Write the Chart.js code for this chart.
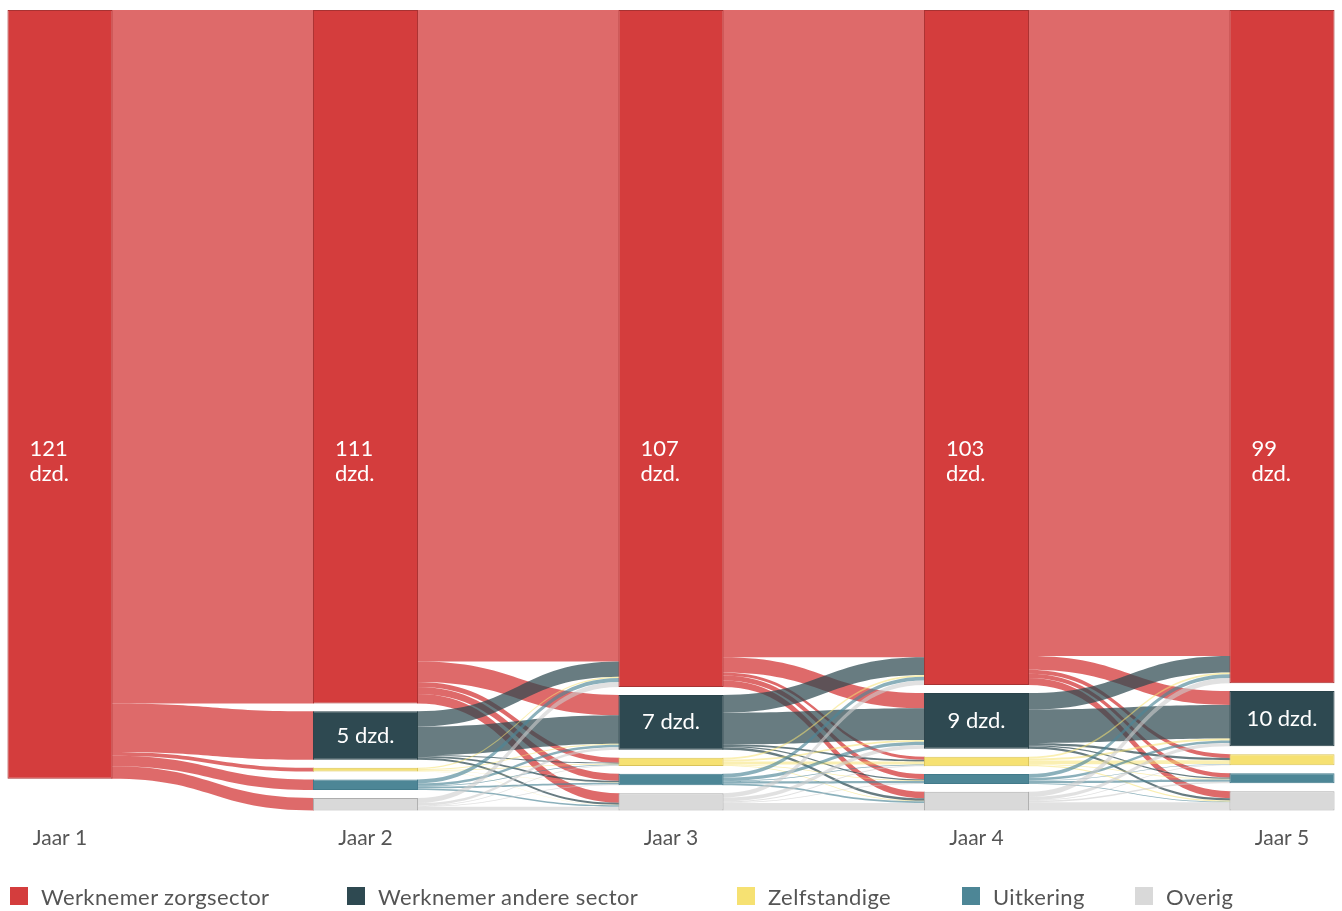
<!DOCTYPE html>
<html>
<head>
<meta charset="utf-8">
<script src="https://cdn.jsdelivr.net/npm/chart.js@4.4.1/dist/chart.umd.min.js"></script>
<style>
  html, body { margin: 0; padding: 0; background: #fff; }
  #wrap { position: relative; width: 1342px; height: 911px; }
  #legend { position: absolute; left: 10px; top: 884px; display: flex; font-family: Lato, 'DejaVu Sans', sans-serif; font-size: 22px; letter-spacing: 0.4px; color: #555; }
  #legend .item { display: flex; align-items: center; height: 24px; }
  #legend .box { width: 18px; height: 18px; margin-right: 13px; }
</style>
</head>
<body>
<div id="wrap">
  <canvas id="sankey"></canvas>
  <div id="legend"></div>
</div>
<script>
const years = ['Jaar 1', 'Jaar 2', 'Jaar 3', 'Jaar 4', 'Jaar 5'];
const categories = ['Werknemer zorgsector', 'Werknemer andere sector', 'Zelfstandige', 'Uitkering', 'Overig'];

// labels printed on the nodes
const mainLabels = ['121', '111', '107', '103', '99'];
const otherSectorLabels = [null, '5', '7', '9', '10'];

// flows in dzd. from one year to the next (row = from, column = to)
const flows12 = [
    [109.4, 7.65, 0.6, 1.65, 2.0],
    [0, 0, 0, 0, 0],
    [0, 0, 0, 0, 0],
    [0, 0, 0, 0, 0],
    [0, 0, 0, 0, 0]
];
const flows23 = [
    [102.8, 3.2, 0.8, 1.1, 1.5],
    [2.4, 4.5, 0.15, 0.25, 0.35],
    [0.2, 0.15, 0.15, 0.05, 0.05],
    [0.6, 0.4, 0.1, 0.3, 0.25],
    [0.8, 0.4, 0.1, 0.1, 0.6]
];
const flows34 = [
    [102.1, 2.4, 0.5, 0.8, 1.0],
    [2.8, 5.0, 0.25, 0.2, 0.4],
    [0.3, 0.3, 0.5, 0.1, 0.1],
    [0.6, 0.5, 0.1, 0.35, 0.25],
    [0.7, 0.6, 0.15, 0.1, 1.2]
];
const flows45 = [
    [101.9, 2.2, 0.6, 0.7, 1.1],
    [2.6, 5.3, 0.35, 0.2, 0.35],
    [0.3, 0.3, 0.6, 0.1, 0.2],
    [0.6, 0.4, 0.1, 0.35, 0.1],
    [0.8, 0.5, 0.1, 0.25, 1.3]
];
const transitions = [flows12, flows23, flows34, flows45];

const nodeColors = ['#d43d3d', '#2e4951', '#f6e172', '#4d8696', '#d9d9d9'];
const nodeBorders = ['#a83232', '#2a434a', '#d9c35a', '#427a8a', '#adadad'];
const linkColors = [
    'rgba(212, 61, 61, 0.77)',
    'rgba(46, 73, 81, 0.72)',
    'rgba(246, 225, 114, 0.55)',
    'rgba(77, 134, 150, 0.65)',
    'rgba(205, 205, 205, 0.6)'
];

const GAP = 1.25;        // space between nodes, in dzd.
const NODE_W = 0.344;    // node width as part of the column step

const sum = arr => arr.reduce((a, b) => a + b, 0);

// node sizes: first year from outgoing flows, later years from incoming ones
const nodeValues = [transitions[0].map(row => sum(row))];
transitions.forEach(m => {
    nodeValues.push(categories.map((_, to) => sum(m.map(row => row[to]))));
});

// stack nodes from the top of each column
const nodeStarts = nodeValues.map(col => {
    let pos = 0;
    return col.map(v => {
        if (v <= 0) return null;
        const start = pos;
        pos += v + GAP;
        return start;
    });
});

const datasets = categories.map((cat, k) => ({
    label: cat,
    data: years.map((_, i) => nodeStarts[i][k] === null ? null :
        { x: i, y: [nodeStarts[i][k], nodeStarts[i][k] + nodeValues[i][k]] }).filter(d => d),
    backgroundColor: nodeColors[k],
    borderColor: nodeBorders[k],
    borderWidth: 1,
    borderSkipped: false,
    grouped: false,
    barPercentage: NODE_W,
    categoryPercentage: 1
}));

function band(ctx, x0, x1, a0, a1, b0, b1) {
    const xm = (x0 + x1) / 2;
    ctx.beginPath();
    ctx.moveTo(x0, a0);
    ctx.bezierCurveTo(xm, a0, xm, b0, x1, b0);
    ctx.lineTo(x1, b1);
    ctx.bezierCurveTo(xm, b1, xm, a1, x0, a1);
    ctx.closePath();
    ctx.fill();
}

const flowPlugin = {
    id: 'flows',
    beforeDatasetsDraw(chart) {
        const ctx = chart.ctx;
        const xs = chart.scales.x, ys = chart.scales.y;
        const bar = chart.getDatasetMeta(0).data[0];
        const half = bar.width / 2;
        ctx.save();
        transitions.forEach((m, t) => {
            // tuck the ends 1px under the nodes so no seam shows
            const x0 = xs.getPixelForValue(t) + half - 1;
            const x1 = xs.getPixelForValue(t + 1) - half + 1;
            const outPos = nodeStarts[t].slice();
            const inPos = nodeStarts[t + 1].slice();
            const links = [];
            m.forEach((row, from) => row.forEach((v, to) => {
                if (v > 0) links.push({ from, to, v });
            }));
            // source side is ordered by target, target side by source
            links.slice().sort((a, b) => a.from - b.from || a.to - b.to).forEach(l => {
                l.s = outPos[l.from]; outPos[l.from] += l.v;
            });
            links.slice().sort((a, b) => a.to - b.to || a.from - b.from).forEach(l => {
                l.d = inPos[l.to]; inPos[l.to] += l.v;
            });
            links.forEach(l => {
                ctx.fillStyle = linkColors[l.from];
                band(ctx, x0, x1,
                    ys.getPixelForValue(l.s), ys.getPixelForValue(l.s + l.v),
                    ys.getPixelForValue(l.d), ys.getPixelForValue(l.d + l.v));
            });
        });
        ctx.restore();
    },
    afterDatasetsDraw(chart) {
        const ctx = chart.ctx;
        const ys = chart.scales.y;
        ctx.save();
        ctx.fillStyle = '#ffffff';
        ctx.font = '22px Lato, "DejaVu Sans", sans-serif';
        ctx.textBaseline = 'middle';
        const mid = ys.getPixelForValue(71.2);
        chart.getDatasetMeta(0).data.forEach((b, i) => {
            ctx.textAlign = 'left';
            const left = b.x - b.width / 2 + 22;
            ctx.fillText(mainLabels[i], left, mid - 12);
            ctx.fillText('dzd.', left, mid + 13);
        });
        chart.getDatasetMeta(1).data.forEach((b, j) => {
            const txt = otherSectorLabels[j + 1];
            if (!txt) return;
            ctx.textAlign = 'center';
            ctx.fillText(txt + ' dzd.', b.x, (b.y + b.base) / 2);
        });
        ctx.restore();
    }
};

const ctx = document.getElementById('sankey').getContext('2d');
const chart = new Chart(ctx, {
    type: 'bar',
    data: { datasets: datasets },
    options: {
        responsive: true,
        maintainAspectRatio: false,
        animation: false,
        events: [],
        layout: { padding: { top: 10, left: 0, right: 0, bottom: 56 } },
        scales: {
            x: {
                type: 'linear',
                offset: false,
                min: -60 / 305.5,
                max: 4 + 60 / 305.5,
                afterBuildTicks: axis => { axis.ticks = years.map((_, i) => ({ value: i })); },
                afterFit: axis => { axis.height = 40; },
                grid: { display: false, drawTicks: false, offset: false },
                border: { display: false },
                ticks: {
                    padding: 11,
                    maxRotation: 0,
                    autoSkip: false,
                    color: '#555',
                    font: { family: 'Lato', size: 21 },
                    callback: v => years[v]
                }
            },
            y: {
                display: false,
                reverse: true,
                min: 0,
                max: 127
            }
        },
        plugins: {
            legend: { display: false },
            tooltip: { enabled: false }
        }
    },
    plugins: [flowPlugin]
});

// legend under the chart
const legendSlots = [337, 390, 225, 173, 120];
const legendEl = document.getElementById('legend');
categories.forEach((cat, k) => {
    const item = document.createElement('div');
    item.className = 'item';
    item.style.width = legendSlots[k] + 'px';
    const box = document.createElement('span');
    box.className = 'box';
    box.style.background = nodeColors[k];
    item.appendChild(box);
    item.appendChild(document.createTextNode(cat));
    legendEl.appendChild(item);
});
</script>
</body>
</html>
